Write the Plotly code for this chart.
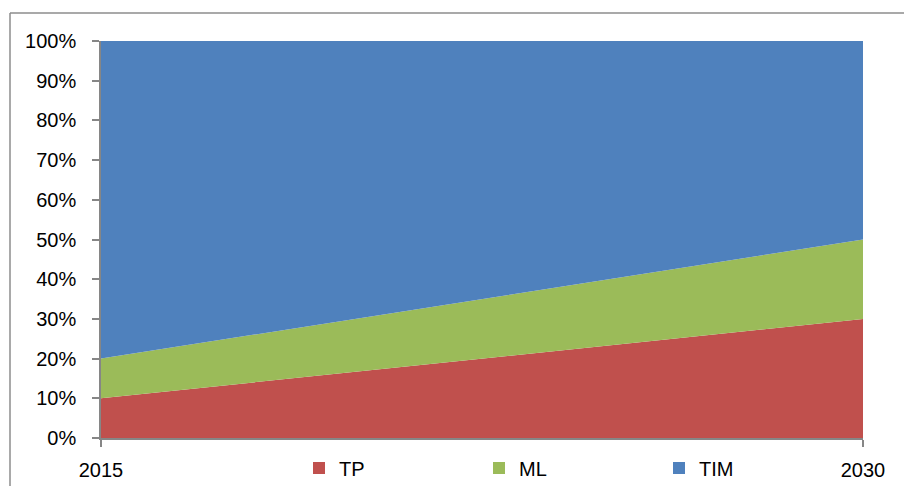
import plotly.graph_objects as go

# Share of each segment, percent of total
years = [2015, 2030]
tp = [10, 30]
ml = [10, 20]
tim = [80, 50]

series = [
    ("TP", tp, "#C0504D"),
    ("ML", ml, "#9BBB59"),
    ("TIM", tim, "#4F81BD"),
]

y_ticks = list(range(0, 101, 10))
y_ticktext = [f"{v}%" for v in y_ticks]
x_ticks = [2015, 2030]

fig = go.Figure()

# Stacked areas
for name, vals, color in series:
    fig.add_trace(go.Scatter(
        x=years, y=vals, name=name, stackgroup="one",
        mode="lines", line=dict(width=0, color=color),
        fillcolor=color, showlegend=False, hoverinfo="x+y+name",
    ))

# Square legend keys
for name, vals, color in series:
    fig.add_trace(go.Scatter(
        x=[None], y=[None], name=name, mode="markers",
        marker=dict(symbol="square", size=12, color=color),
        showlegend=True,
    ))

axis_color = "#868686"
L, R, T, B = 101, 41, 41, 48
W, H = 904, 486
pw, ph = W - L - R, H - T - B
font_family = "Liberation Sans, Arial, sans-serif"

fig.update_layout(
    width=W, height=H,
    margin=dict(l=L, r=R, t=T, b=B, pad=0, autoexpand=False),
    paper_bgcolor="white", plot_bgcolor="white",
    font=dict(family=font_family, size=20, color="#000000"),
    xaxis=dict(
        range=[years[0], years[-1]], tickvals=x_ticks, ticktext=[str(v) for v in x_ticks],
        showgrid=False, zeroline=False, showline=True, linecolor=axis_color, linewidth=1.5,
        ticks="outside", ticklen=7, tickcolor=axis_color, tickwidth=1.5,
        ticklabelstandoff=6, automargin=False,
    ),
    yaxis=dict(
        range=[0, 100], tickvals=y_ticks, ticktext=y_ticktext,
        showgrid=False, zeroline=False, showline=True, linecolor=axis_color, linewidth=1.5,
        ticks="outside", ticklen=7, tickcolor=axis_color, tickwidth=1.5,
        ticklabelstandoff=12, automargin=False,
    ),
    legend=dict(
        orientation="h", x=(299 - L) / pw, xanchor="left",
        y=-30 / ph, yanchor="middle", traceorder="normal",
        entrywidth=135, entrywidthmode="pixels",
        font=dict(family=font_family, size=20), bgcolor="rgba(0,0,0,0)",
    ),
    shapes=[
        dict(type="line", xref="paper", yref="paper",
             x0=(10 - L) / pw, x1=(10 - L) / pw, y0=1 + (T - 13) / ph, y1=-(B + 20) / ph,
             line=dict(color="#8C8C8C", width=1.5)),
        dict(type="line", xref="paper", yref="paper",
             x0=(10 - L) / pw, x1=(W + 20 - L) / pw, y0=1 + (T - 13) / ph, y1=1 + (T - 13) / ph,
             line=dict(color="#8C8C8C", width=1.5)),
    ],
    showlegend=True,
)

fig.write_html("out.html")
